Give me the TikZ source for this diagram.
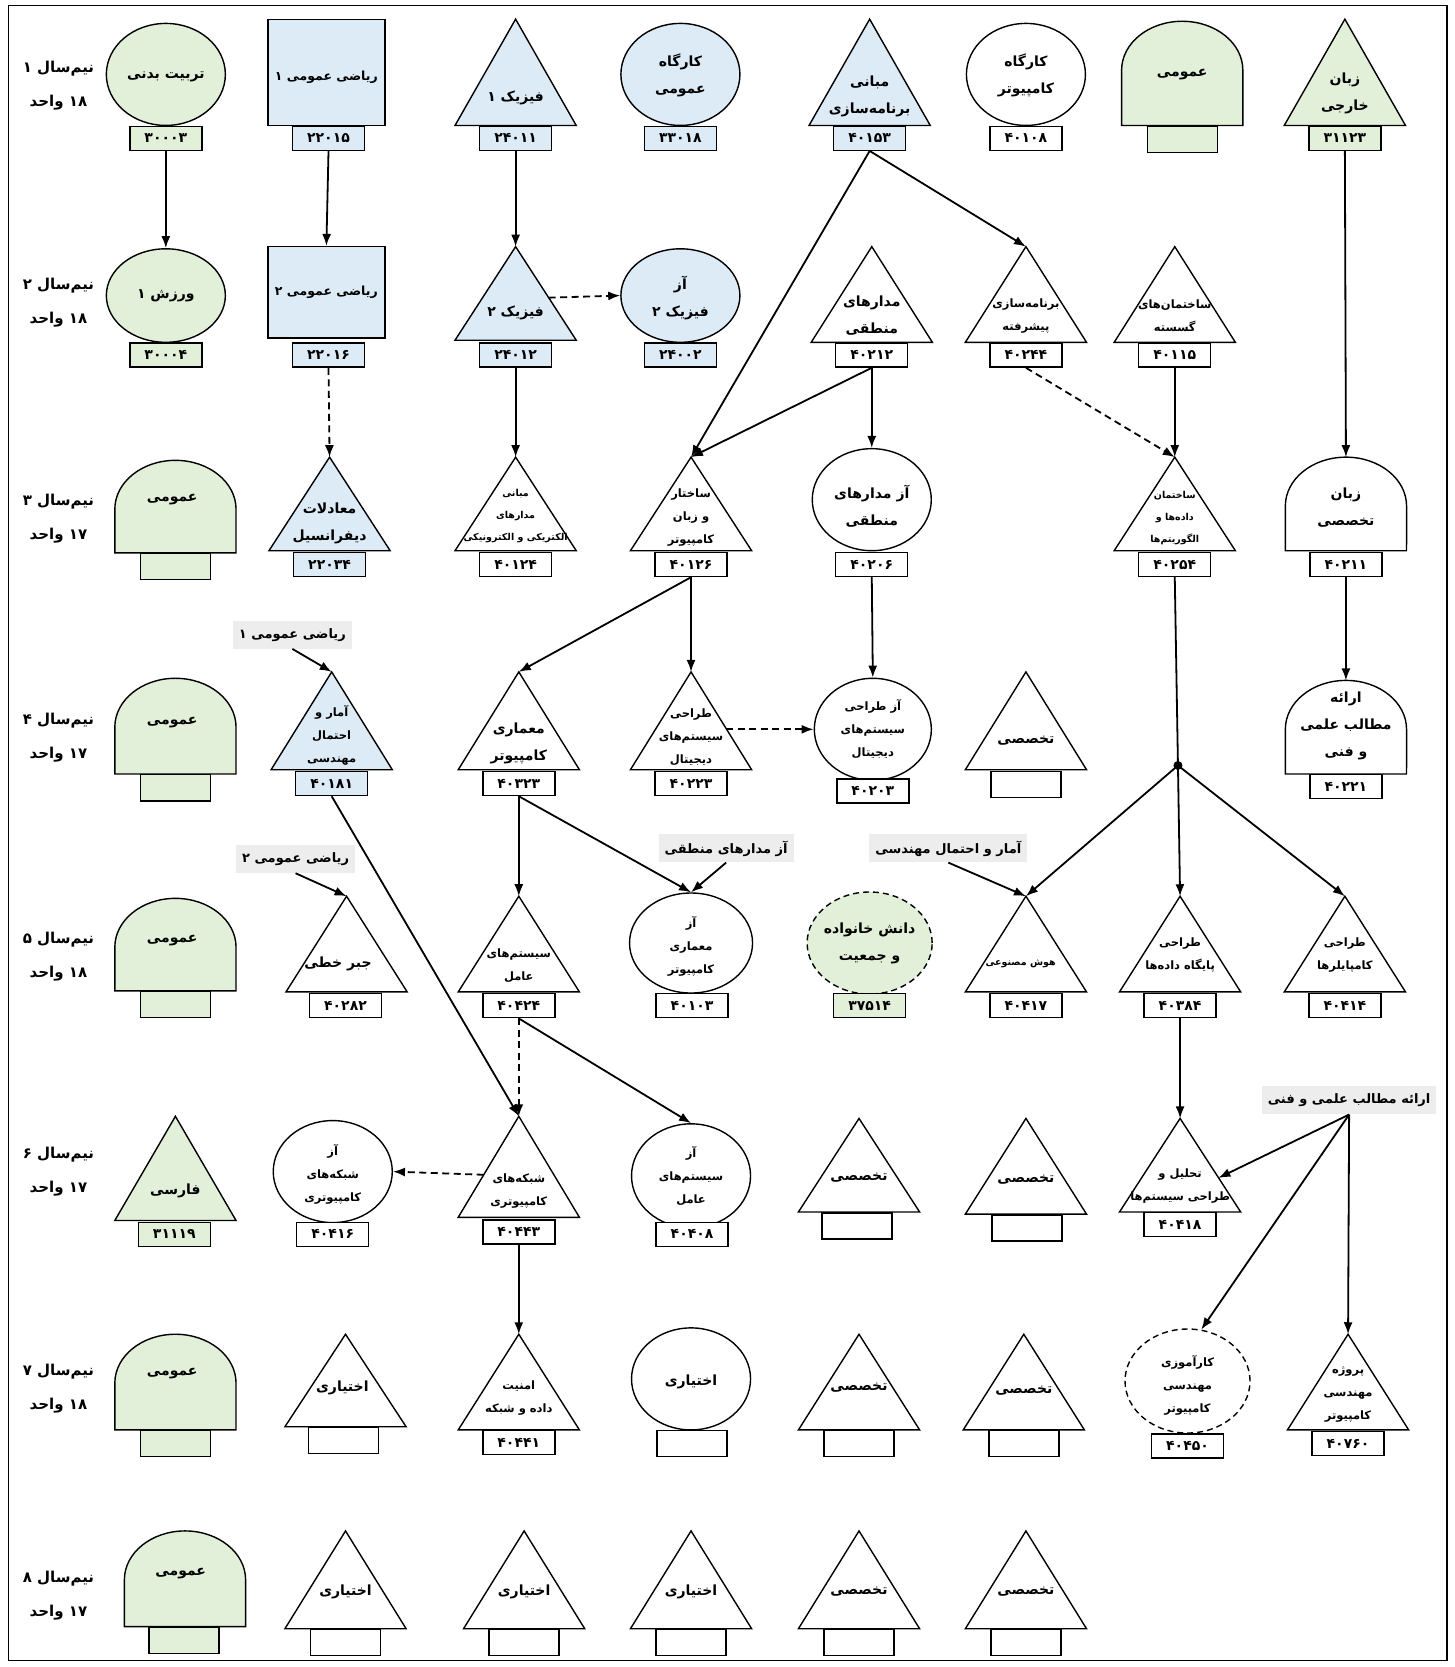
\documentclass[tikz,border=0pt]{standalone}
\usepackage{fontspec}
\TeXXeTstate=1
\newfontfamily\fafont[Script=Arabic]{DejaVu Sans}
\usetikzlibrary{arrows.meta,shapes.geometric}
\definecolor{cgreen}{HTML}{E2EFD9}
\definecolor{cblue}{HTML}{DDEBF7}
\definecolor{cgray}{HTML}{EDEDED}
\newcommand\Rt[1]{\beginR#1\endR}
\newcommand\Tri[5]{\filldraw[sh, fill=#5] (#2,#3) -- ({#2+57},#4) -- ({#2-57},#4) -- cycle; \coordinate (#1) at (#2,#3);}
\newcommand\Dome[5]{\filldraw[sh, fill=#5] ({#2-57},#4) -- ({#2-57},{#3+46}) arc[start angle=180, end angle=0, x radius=60.6pt, y radius=48.9pt] -- ({#2+57},#4) -- cycle; \coordinate (#1) at (#2,#3);}
\begin{document}
\begin{tikzpicture}[x=1.0629pt,y=-1.0629pt,
  every node/.style={font=\fafont\bfseries\fontsize{14}{27}\selectfont},
  sh/.style={draw=black, line width=1.4pt},
  txt/.style={align=center, inner sep=0pt},
  small/.style={font=\fafont\bfseries\fontsize{11.5}{23}\selectfont},
  tiny/.style={font=\fafont\bfseries\fontsize{9.5}{22}\selectfont},
  rectxt/.style={font=\fafont\bfseries\fontsize{12.5}{23}\selectfont},
  rowlbl/.style={align=center, inner sep=0pt, font=\fafont\bfseries\fontsize{15}{34}\selectfont},
  codebox/.style={sh, minimum width=72pt, minimum height=24pt, inner sep=0pt, fill=white, font=\fafont\bfseries\fontsize{14}{14}\selectfont},
  emptybox/.style={sh, minimum width=70pt, minimum height=26pt, inner sep=0pt, fill=white},
  ell/.style={sh, ellipse, inner sep=0pt, fill=white},
  rectbox/.style={sh, rectangle, inner sep=0pt},
  graylbl/.style={fill=cgray, inner xsep=6pt, minimum height=28pt, font=\fafont\bfseries\fontsize{13}{20}\selectfont},
  arr/.style={-{Latex[length=12pt,width=9pt]}, line width=1.8pt},
  darr/.style={arr, dash pattern=on 7pt off 4.5pt},
  conn/.style={line width=1.8pt},
  dsh/.style={dash pattern=on 6pt off 4pt}]
\useasboundingbox (0,0) rectangle (1368,1568);
\fill[white] (0,0) rectangle (1368,1568);
\draw[line width=1.5pt] (8,5) rectangle (1361,1562);

% row labels
\node[rowlbl] (L1) at (55,81) {\Rt{نیم^^^^200cسال ۱}\\\Rt{\beginL۱۸\endL{} واحد}};
\node[rowlbl] (L2) at (55,285) {\Rt{نیم^^^^200cسال ۲}\\\Rt{\beginL۱۸\endL{} واحد}};
\node[rowlbl] (L3) at (55,488) {\Rt{نیم^^^^200cسال ۳}\\\Rt{\beginL۱۷\endL{} واحد}};
\node[rowlbl] (L4) at (55,694) {\Rt{نیم^^^^200cسال ۴}\\\Rt{\beginL۱۷\endL{} واحد}};
\node[rowlbl] (L5) at (55,900) {\Rt{نیم^^^^200cسال ۵}\\\Rt{\beginL۱۸\endL{} واحد}};
\node[rowlbl] (L6) at (55,1102) {\Rt{نیم^^^^200cسال ۶}\\\Rt{\beginL۱۷\endL{} واحد}};
\node[rowlbl] (L7) at (55,1306) {\Rt{نیم^^^^200cسال ۷}\\\Rt{\beginL۱۸\endL{} واحد}};
\node[rowlbl] (L8) at (55,1501) {\Rt{نیم^^^^200cسال ۸}\\\Rt{\beginL۱۷\endL{} واحد}};

% ---------- row 1
\node[ell, fill=cgreen, minimum width=119pt, minimum height=102pt] (e11) at (156,70) {};
\node[txt] (e11t) at (156,72) {\Rt{تربیت بدنی}};
\node[codebox, fill=cgreen] (c11) at (156,130) {۳۰۰۰۳};

\node[rectbox, fill=cblue, minimum width=117pt, minimum height=106pt] (r12) at (307,68) {};
\node[txt, rectxt] (r12t) at (307,73) {\Rt{ریاضی عمومی ۱}};
\node[codebox, fill=cblue] (c12) at (309,130) {۲۲۰۱۵};

\Tri{t13}{485}{18}{118}{cblue}
\node[txt] (t13t) at (485,92) {\Rt{فیزیک ۱}};
\node[codebox, fill=cblue] (c13) at (485,130) {۲۴۰۱۱};

\node[ell, fill=cblue, minimum width=119pt, minimum height=102pt] (e14) at (640,70) {};
\node[txt] (e14t) at (640,71) {\Rt{کارگاه}\\\Rt{عمومی}};
\node[codebox, fill=cblue] (c14) at (640,130) {۳۳۰۱۸};

\Tri{t15}{818}{18}{118}{cblue}
\node[txt] (t15t) at (818,91) {\Rt{مبانی}\\\Rt{برنامه^^^^200cسازی}};
\node[codebox, fill=cblue] (c15) at (818,130) {۴۰۱۵۳};

\node[ell, minimum width=119pt, minimum height=102pt] (e16) at (965,70) {};
\node[txt] (e16t) at (965,71) {\Rt{کارگاه}\\\Rt{کامپیوتر}};
\node[codebox] (c16) at (965,130) {۴۰۱۰۸};

\Dome{d17}{1112}{20}{118}{cgreen}
\node[txt] (d17t) at (1112,70) {\Rt{عمومی}};
\node[emptybox, fill=cgreen] (b17) at (1112,131) {};

\Tri{t18}{1265}{18}{118}{cgreen}
\node[txt] (t18t) at (1265,88) {\Rt{زبان}\\\Rt{خارجی}};
\node[codebox, fill=cgreen] (c18) at (1265,130) {۳۱۱۲۳};

% ---------- row 2
\node[ell, fill=cgreen, minimum width=119pt, minimum height=93.5pt] (e21) at (156,278) {};
\node[txt] (e21t) at (156,278) {\Rt{ورزش ۱}};
\node[codebox, fill=cgreen] (c21) at (156,334) {۳۰۰۰۴};

\node[rectbox, fill=cblue, minimum width=117pt, minimum height=91.5pt] (r22) at (307,275) {};
\node[txt, rectxt] (r22t) at (307,275) {\Rt{ریاضی عمومی ۲}};
\node[codebox, fill=cblue] (c22) at (309,334) {۲۲۰۱۶};

\Tri{t23}{485}{232}{320}{cblue}
\node[txt] (t23t) at (485,294) {\Rt{فیزیک ۲}};
\node[codebox, fill=cblue] (c23) at (485,334) {۲۴۰۱۲};
\coordinate (t23r) at (516,280);

\node[ell, fill=cblue, minimum width=119pt, minimum height=93.5pt] (e24) at (640,278) {};
\node[txt] (e24t) at (640,280) {\Rt{آز}\\\Rt{فیزیک ۲}};
\node[codebox, fill=cblue] (c24) at (640,334) {۲۴۰۰۲};

\Tri{t25}{820}{232}{322}{white}
\node[txt] (t25t) at (820,297) {\Rt{مدارهای}\\\Rt{منطقی}};
\node[codebox] (c25) at (820,334) {۴۰۲۱۲};

\Tri{t26}{965}{232}{322}{white}
\node[txt, small] (t26t) at (965,297) {\Rt{برنامه^^^^200cسازی}\\\Rt{پیشرفته}};
\node[codebox] (c26) at (965,334) {۴۰۲۴۴};

\Tri{t27}{1105}{232}{322}{white}
\node[txt, small] (t27t) at (1105,297) {\Rt{ساختمان^^^^200cهای}\\\Rt{گسسته}};
\node[codebox] (c27) at (1105,334) {۴۰۱۱۵};

% ---------- row 3
\Dome{d31}{165}{433}{520}{cgreen}
\node[txt] (d31t) at (162,470) {\Rt{عمومی}};
\node[emptybox, fill=cgreen] (b31) at (165,533) {};

\Tri{t32}{310}{430}{518}{cblue}
\node[txt] (t32t) at (310,492) {\Rt{معادلات}\\\Rt{دیفرانسیل}};
\node[codebox, fill=cblue] (c32) at (310,531) {۲۲۰۳۴};

\Tri{t33}{485}{430}{518}{white}
\node[txt, tiny] (t33t) at (485,485) {\Rt{مبانی}\\\Rt{مدارهای}\\\Rt{الکتریکی و الکترونیکی}};
\node[codebox] (c33) at (485,531) {۴۰۱۲۴};

\Tri{t34}{650}{430}{518}{white}
\node[txt, small] (t34t) at (650,487) {\Rt{ساختار}\\\Rt{و زبان}\\\Rt{کامپیوتر}};
\node[codebox] (c34) at (650,531) {۴۰۱۲۶};

\node[ell, minimum width=119pt, minimum height=102pt] (e35) at (820,470) {};
\node[txt] (e35t) at (820,476) {\Rt{آز مدارهای}\\\Rt{منطقی}};
\node[codebox] (c35) at (820,531) {۴۰۲۰۶};

\Tri{t37}{1105}{430}{518}{white}
\node[txt, tiny] (t37t) at (1105,487) {\Rt{ساختمان}\\\Rt{داده^^^^200cها و}\\\Rt{الگوریتم^^^^200cها}};
\node[codebox] (c37) at (1105,531) {۴۰۲۵۴};

\Dome{d38}{1266}{430}{518}{white}
\node[txt] (d38t) at (1266,477) {\Rt{زبان}\\\Rt{تخصصی}};
\node[codebox] (c38) at (1266,531) {۴۰۲۱۱};

% ---------- row 4
\node[graylbl] (g41) at (275,597) {\Rt{ریاضی عمومی ۱}};

\Dome{d41}{165}{638}{728}{cgreen}
\node[txt] (d41t) at (162,680) {\Rt{عمومی}};
\node[emptybox, fill=cgreen] (b41) at (165,741) {};

\Tri{t42}{312}{632}{724}{cblue}
\node[txt, small] (t42t) at (312,692) {\Rt{آمار و}\\\Rt{احتمال}\\\Rt{مهندسی}};
\node[codebox, fill=cblue] (c42) at (312,737) {۴۰۱۸۱};

\Tri{t43}{488}{632}{724}{white}
\node[txt] (t43t) at (488,699) {\Rt{معماری}\\\Rt{کامپیوتر}};
\node[codebox] (c43) at (488,737) {۴۰۳۲۳};

\Tri{t44}{650}{632}{724}{white}
\node[txt, small] (t44t) at (650,693) {\Rt{طراحی}\\\Rt{سیستم^^^^200cهای}\\\Rt{دیجیتال}};
\node[codebox] (c44) at (650,737) {۴۰۲۲۳};
\coordinate (t44r) at (683,686);

\node[ell, minimum width=117pt, minimum height=102pt] (e45) at (821,686) {};
\node[txt, small] (e45t) at (821,686) {\Rt{آز طراحی}\\\Rt{سیستم^^^^200cهای}\\\Rt{دیجیتال}};
\node[codebox] (c45) at (821,744) {۴۰۲۰۳};

\Tri{t46}{965}{632}{724}{white}
\node[txt] (t46t) at (965,697) {\Rt{تخصصی}};
\node[emptybox] (b46) at (965,738) {};

\coordinate (j) at (1108,720);

\Dome{d48}{1266}{640}{728}{white}
\node[txt] (d48t) at (1266,683) {\Rt{ارائه}\\\Rt{مطالب علمی}\\\Rt{و فنی}};
\node[codebox] (c48) at (1266,740) {۴۰۲۲۱};

% ---------- row 5
\node[graylbl] (g52) at (278,808) {\Rt{ریاضی عمومی ۲}};
\node[graylbl] (g54) at (683,798) {\Rt{آز مدارهای منطقی}};
\node[graylbl] (g56) at (892,798) {\Rt{آمار و احتمال مهندسی}};

\Dome{d51}{165}{845}{932}{cgreen}
\node[txt] (d51t) at (162,885) {\Rt{عمومی}};
\node[emptybox, fill=cgreen] (b51) at (165,945) {};

\Tri{t52}{326}{843}{933}{white}
\node[txt] (t52t) at (318,907) {\Rt{جبر خطی}};
\node[codebox] (c52) at (325,946) {۴۰۲۸۲};

\Tri{t53}{488}{843}{933}{white}
\node[txt, small] (t53t) at (488,908) {\Rt{سیستم^^^^200cهای}\\\Rt{عامل}};
\node[codebox] (c53) at (488,946) {۴۰۴۲۴};

\node[ell, minimum width=123pt, minimum height=100pt] (e54) at (650,887) {};
\node[txt, small] (e54t) at (650,890) {\Rt{آز}\\\Rt{معماری}\\\Rt{کامپیوتر}};
\node[codebox] (c54) at (651,946) {۴۰۱۰۳};

\node[ell, dsh, fill=cgreen, minimum width=125pt, minimum height=102pt] (e55) at (818,887) {};
\node[txt] (e55t) at (818,887) {\Rt{دانش خانواده}\\\Rt{و جمعیت}};
\node[codebox, fill=cgreen] (c55) at (818,946) {۳۷۵۱۴};

\Tri{t56}{965}{843}{933}{white}
\node[txt, tiny] (t56t) at (960,907) {\Rt{هوش مصنوعی}};
\node[codebox] (c56) at (965,946) {۴۰۴۱۷};

\Tri{t57}{1110}{843}{933}{white}
\node[txt, small] (t57t) at (1110,898) {\Rt{طراحی}\\\Rt{پایگاه داده^^^^200cها}};
\node[codebox] (c57) at (1110,946) {۴۰۳۸۴};

\Tri{t58}{1265}{843}{933}{white}
\node[txt, small] (t58t) at (1265,898) {\Rt{طراحی}\\\Rt{کامپایلرها}};
\node[codebox] (c58) at (1265,946) {۴۰۴۱۴};

% ---------- row 6
\node[graylbl] (g67) at (1269,1035) {\Rt{ارائه مطالب علمی و فنی}};

\Tri{t61}{165}{1050}{1148}{cgreen}
\node[txt] (t61t) at (165,1120) {\Rt{فارسی}};
\node[codebox, fill=cgreen] (c61) at (164,1161) {۳۱۱۱۹};

\node[ell, minimum width=119pt, minimum height=102pt] (e62) at (313,1102) {};
\node[txt, small] (e62t) at (313,1105) {\Rt{آز}\\\Rt{شبکه^^^^200cهای}\\\Rt{کامپیوتری}};
\node[codebox] (c62) at (313,1161) {۴۰۴۱۶};

\Tri{t63}{488}{1050}{1145}{white}
\node[txt, small] (t63t) at (488,1120) {\Rt{شبکه^^^^200cهای}\\\Rt{کامپیوتری}};
\node[codebox] (c63) at (488,1159) {۴۰۴۴۳};
\coordinate (t63l) at (455,1105);

\node[ell, minimum width=119pt, minimum height=104pt] (e64) at (650,1106) {};
\node[txt, small] (e64t) at (650,1106) {\Rt{آز}\\\Rt{سیستم^^^^200cهای}\\\Rt{عامل}};
\node[codebox] (c64) at (651,1161) {۴۰۴۰۸};

\Tri{t65}{808}{1052}{1140}{white}
\node[txt] (t65t) at (808,1108) {\Rt{تخصصی}};
\node[emptybox] (b65) at (806,1153) {};

\Tri{t66}{965}{1052}{1142}{white}
\node[txt] (t66t) at (965,1110) {\Rt{تخصصی}};
\node[emptybox] (b66) at (966,1155) {};

\Tri{t67}{1110}{1052}{1140}{white}
\node[txt, small] (t67t) at (1110,1116) {\Rt{تحلیل و}\\\Rt{طراحی سیستم^^^^200cها}};
\node[codebox] (c67) at (1110,1152) {۴۰۴۱۸};
\coordinate (t67r) at (1146,1108);

% ---------- row 7
\Dome{d71}{165}{1255}{1345}{cgreen}
\node[txt] (d71t) at (162,1292) {\Rt{عمومی}};
\node[emptybox, fill=cgreen] (b71) at (165,1358) {};

\Tri{t72}{325}{1255}{1342}{white}
\node[txt] (t72t) at (322,1305) {\Rt{اختیاری}};
\node[emptybox] (b72) at (323,1355) {};

\Tri{t73}{488}{1255}{1345}{white}
\node[txt, small] (t73t) at (488,1315) {\Rt{امنیت}\\\Rt{داده و شبکه}};
\node[codebox] (c73) at (488,1357) {۴۰۴۴۱};

\node[ell, minimum width=119pt, minimum height=102pt] (e74) at (650,1297) {};
\node[txt] (e74t) at (650,1300) {\Rt{اختیاری}};
\node[emptybox] (b74) at (651,1358) {};

\Tri{t75}{808}{1255}{1345}{white}
\node[txt] (t75t) at (808,1305) {\Rt{تخصصی}};
\node[emptybox] (b75) at (808,1358) {};

\Tri{t76}{963}{1255}{1345}{white}
\node[txt] (t76t) at (963,1308) {\Rt{تخصصی}};
\node[emptybox] (b76) at (963,1358) {};

\node[ell, dsh, minimum width=125pt, minimum height=104pt] (e77) at (1117,1299) {};
\node[txt, small] (e77t) at (1117,1303) {\Rt{کارآموزی}\\\Rt{مهندسی}\\\Rt{کامپیوتر}};
\node[codebox] (c77) at (1117,1360) {۴۰۴۵۰};

\Tri{t78}{1268}{1255}{1345}{white}
\node[txt, small] (t78t) at (1268,1312) {\Rt{پروژه}\\\Rt{مهندسی}\\\Rt{کامپیوتر}};
\node[codebox] (c78) at (1268,1358) {۴۰۷۶۰};

% ---------- row 8
\Dome{d81}{174}{1440}{1530}{cgreen}
\node[txt] (d81t) at (170,1480) {\Rt{عمومی}};
\node[emptybox, fill=cgreen] (b81) at (173,1543) {};

\Tri{t82}{325}{1440}{1532}{white}
\node[txt] (t82t) at (325,1497) {\Rt{اختیاری}};
\node[emptybox] (b82) at (325,1545) {};

\Tri{t83}{493}{1440}{1532}{white}
\node[txt] (t83t) at (493,1497) {\Rt{اختیاری}};
\node[emptybox] (b83) at (493,1545) {};

\Tri{t84}{650}{1440}{1532}{white}
\node[txt] (t84t) at (650,1497) {\Rt{اختیاری}};
\node[emptybox] (b84) at (650,1545) {};

\Tri{t85}{808}{1440}{1532}{white}
\node[txt] (t85t) at (808,1497) {\Rt{تخصصی}};
\node[emptybox] (b85) at (808,1545) {};

\Tri{t86}{965}{1440}{1532}{white}
\node[txt] (t86t) at (965,1497) {\Rt{تخصصی}};
\node[emptybox] (b86) at (965,1545) {};

% ---------- connectors
\draw[arr] (c11.south) -- (e21.north);
\draw[arr] (c12.south) -- (r22.north);
\draw[arr] (c13.south) -- (t23);
\draw[arr] (c15.south) -- (t34);
\draw[arr] (c15.south) -- (t26);
\draw[arr] (c18.south) -- (d38);
\draw[darr] (c22.south) -- (t32);
\draw[darr] (t23r) -- (e24.west);
\draw[arr] (c23.south) -- (t33);
\draw[arr] (c25.south) -- (t34);
\draw[arr] (c25.south) -- (e35.north);
\draw[darr] (c26.south) -- (t37);
\draw[arr] (c27.south) -- (t37);
\draw[arr] (c34.south) -- (t43);
\draw[arr] (c34.south) -- (t44);
\draw[arr] (c35.south) -- (e45.north);
\draw[conn] (c37.south) -- (j);
\fill (j) circle[radius=4.5pt];
\draw[arr] (j) -- (t56);
\draw[arr] (j) -- (t57);
\draw[arr] (j) -- (t58);
\draw[arr] (c38.south) -- (d48);
\draw[darr] (t44r) -- (e45.west);
\draw[arr] (g41.south) -- (t42);
\draw[arr] (c42.south) -- (t63);
\draw[arr] (c43.south) -- (t53);
\draw[arr] (c43.south) -- (e54.north);
\draw[arr] (g52.south) -- (t52);
\draw[arr] (g54.south) -- (e54.north);
\draw[arr] (g56.south) -- (t56);
\draw[darr] (c53.south) -- (t63);
\draw[arr] (c53.south) -- (e64.north);
\draw[arr] (c57.south) -- (t67);
\draw[darr] (t63l) -- (e62.east);
\draw[arr] (c63.south) -- (t73);
\draw[arr] (g67.south) -- (t67r);
\draw[arr] (g67.south) -- (e77.75);
\draw[arr] (g67.south) -- (t78);
\end{tikzpicture}
\end{document}
